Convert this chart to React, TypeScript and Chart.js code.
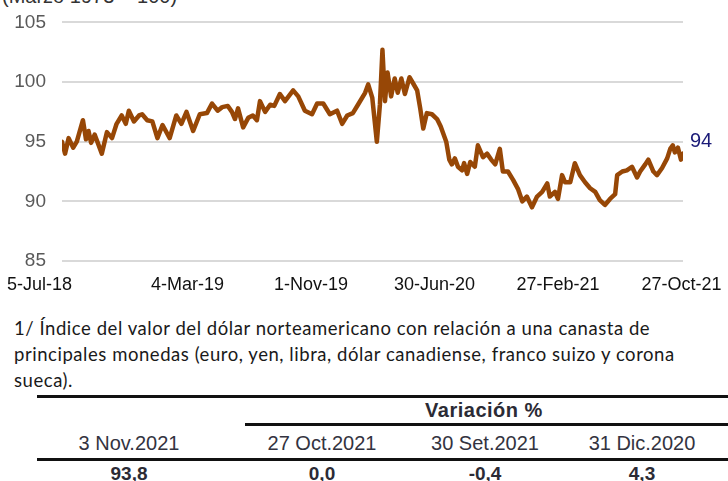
import React, { useEffect, useRef } from "react";
import { Chart, registerables } from "chart.js";

Chart.register(...registerables);

const title = "(Marzo 1973 = 100)";
const startDate = "2018-07-05";
const endDate = "2021-11-03";

const dates: string[] = [
  "2018-07-05", "2018-07-11", "2018-07-18", "2018-07-27", "2018-08-03", "2018-08-15", "2018-08-21", "2018-08-26",
  "2018-08-31", "2018-09-07", "2018-09-21", "2018-10-01", "2018-10-11", "2018-10-20", "2018-10-30", "2018-11-07",
  "2018-11-13", "2018-11-23", "2018-12-03", "2018-12-09", "2018-12-19", "2018-12-29", "2019-01-08", "2019-01-18",
  "2019-02-01", "2019-02-14", "2019-02-24", "2019-03-06", "2019-03-19", "2019-04-01", "2019-04-15", "2019-04-25",
  "2019-05-06", "2019-05-15", "2019-05-26", "2019-06-03", "2019-06-09", "2019-06-15", "2019-06-25", "2019-07-05",
  "2019-07-14", "2019-07-22", "2019-07-28", "2019-08-07", "2019-08-17", "2019-08-25", "2019-09-05", "2019-09-15",
  "2019-10-01", "2019-10-11", "2019-10-24", "2019-11-07", "2019-11-17", "2019-11-29", "2019-12-12", "2019-12-26",
  "2020-01-05", "2020-01-15", "2020-01-26", "2020-02-05", "2020-02-19", "2020-02-25", "2020-03-04", "2020-03-13",
  "2020-03-19", "2020-03-24", "2020-03-29", "2020-04-03", "2020-04-10", "2020-04-17", "2020-04-23", "2020-04-30",
  "2020-05-07", "2020-05-16", "2020-05-23", "2020-05-31", "2020-06-06", "2020-06-12", "2020-06-19", "2020-06-29",
  "2020-07-09", "2020-07-16", "2020-07-27", "2020-08-02", "2020-08-07", "2020-08-13", "2020-08-19", "2020-08-27",
  "2020-08-31", "2020-09-06", "2020-09-12", "2020-09-21", "2020-09-27", "2020-10-07", "2020-10-15", "2020-10-23",
  "2020-10-31", "2020-11-09", "2020-11-15", "2020-11-25", "2020-12-05", "2020-12-15", "2020-12-23", "2021-01-01",
  "2021-01-11", "2021-01-21", "2021-01-31", "2021-02-10", "2021-02-15", "2021-02-25", "2021-03-03", "2021-03-11",
  "2021-03-17", "2021-03-27", "2021-04-05", "2021-04-15", "2021-04-25", "2021-05-05", "2021-05-15", "2021-05-24",
  "2021-06-03", "2021-06-13", "2021-06-23", "2021-06-27", "2021-07-07", "2021-07-16", "2021-07-26", "2021-08-05",
  "2021-08-11", "2021-08-21", "2021-08-27", "2021-09-06", "2021-09-13", "2021-09-23", "2021-10-03", "2021-10-09",
  "2021-10-14", "2021-10-18", "2021-10-24", "2021-10-30", "2021-11-03",
];

const dxy: number[] = [
  95.0, 94.0, 95.3, 94.5, 95.0, 96.8, 95.2, 95.9,
  94.9, 95.6, 94.0, 95.8, 95.3, 96.5, 97.2, 96.5,
  97.6, 96.7, 97.2, 97.3, 96.8, 96.7, 95.3, 96.4,
  95.3, 97.2, 96.5, 97.5, 95.9, 97.3, 97.4, 98.2,
  97.6, 97.9, 98.0, 97.5, 96.9, 97.8, 96.2, 97.0,
  97.2, 96.8, 98.4, 97.5, 98.1, 98.0, 99.0, 98.4,
  99.3, 98.8, 97.6, 97.3, 98.2, 98.2, 97.3, 97.6,
  96.5, 97.2, 97.4, 98.1, 99.1, 99.8, 98.7, 95.0,
  98.1, 102.7, 98.4, 100.8, 98.8, 100.3, 99.1, 100.3,
  99.0, 100.4, 99.9, 99.3, 97.8, 96.1, 97.4, 97.3,
  96.9, 96.3, 95.0, 93.5, 93.1, 93.6, 92.9, 92.6,
  93.2, 92.3, 93.3, 92.9, 94.7, 93.7, 94.0, 93.5,
  93.1, 94.4, 92.5, 92.5, 91.8, 91.0, 90.0, 90.4,
  89.5, 90.4, 90.8, 91.5, 90.4, 90.8, 90.2, 92.2,
  91.6, 91.6, 93.2, 92.2, 91.6, 91.1, 90.8, 90.1,
  89.7, 90.2, 90.6, 92.2, 92.5, 92.6, 92.9, 92.0,
  92.5, 93.1, 93.5, 92.5, 92.2, 92.8, 93.6, 94.4,
  94.7, 94.1, 94.5, 93.5, 94.0,
];

const xTickDates = ["2018-07-05", "2019-03-04", "2019-11-01", "2020-06-30", "2021-02-27", "2021-10-27"];
const xTickLabels = ["5-Jul-18", "4-Mar-19", "1-Nov-19", "30-Jun-20", "27-Feb-21", "27-Oct-21"];
const yTicks = [85, 90, 95, 100, 105];

const noteLines = [
  "1/ Índice del valor del dólar norteamericano con relación a una canasta de",
  "principales monedas (euro, yen, libra, dólar canadiense, franco suizo y corona",
  "sueca).",
];
const tableGroupLabel = "Variación %";
const tableHeaders = ["3 Nov.2021", "27 Oct.2021", "30 Set.2021", "31 Dic.2020"];
const tableValues = ["93,8", "0,0", "-0,4", "4,3"];

const dayOf = (s: string) =>
  (Date.parse(s + "T00:00:00Z") - Date.parse(startDate + "T00:00:00Z")) / 86400000;

const AXIS_FONT = '"Liberation Sans", Arial, sans-serif';

const labelsPlugin = {
  id: "customLabels",
  afterDraw(chart: any) {
    const { ctx } = chart;
    const xs = chart.scales.x;
    const ys = chart.scales.y;
    ctx.save();
    ctx.font = "18px " + AXIS_FONT;
    ctx.fillStyle = "#111111";
    ctx.textBaseline = "middle";
    const ly0 = ys.bottom + 24;
    xTickDates.forEach((d, i) => {
      const px = xs.getPixelForValue(dayOf(d));
      if (i === 0) {
        ctx.textAlign = "right";
        ctx.fillText(xTickLabels[i], px + 10, ly0);
      } else {
        ctx.textAlign = "center";
        ctx.fillText(xTickLabels[i], px + 2, ly0);
      }
    });
    const li = dxy.length - 1;
    const lx = xs.getPixelForValue(dayOf(dates[li]));
    const ly = ys.getPixelForValue(dxy[li]);
    ctx.font = "20px " + AXIS_FONT;
    ctx.fillStyle = "#1B1B78";
    ctx.textAlign = "left";
    ctx.fillText(Math.round(dxy[li]).toString(), lx + 7, ly - 12);
    ctx.restore();
  },
};

function DxyChart() {
  const ref = useRef<HTMLCanvasElement | null>(null);
  useEffect(() => {
    if (!ref.current) return;
    const chart = new Chart(ref.current, {
      type: "line",
      data: {
        datasets: [
          {
            data: dates.map((d, i) => ({ x: dayOf(d), y: dxy[i] })),
            borderColor: "#974706",
            borderWidth: 4.5,
            pointRadius: 0,
            tension: 0,
            borderJoinStyle: "round",
            borderCapStyle: "round",
            fill: false,
          },
        ],
      },
      options: {
        responsive: false,
        animation: false,
        events: [],
        layout: { padding: { left: 0, right: 45, top: 16, bottom: 39 } },
        plugins: { legend: { display: false }, tooltip: { enabled: false } },
        scales: {
          x: {
            type: "linear",
            display: false,
            min: 0,
            max: dayOf(endDate),
          },
          y: {
            min: 85,
            max: 105,
            afterBuildTicks: (scale: any) => {
              scale.ticks = yTicks.map((v) => ({ value: v }));
            },
            afterFit: (scale: any) => {
              scale.width = 62;
            },
            ticks: {
              color: "#595959",
              padding: 16,
              font: { family: AXIS_FONT, size: 19 },
            },
            grid: { color: "#d9d9d9", lineWidth: 2, drawTicks: false },
            border: { display: false },
          },
        },
      },
      plugins: [labelsPlugin],
    } as any);
    return () => chart.destroy();
  }, []);
  return <canvas ref={ref} width={728} height={305} style={{ position: "absolute", left: 0, top: -5, width: 728, height: 305 }} />;
}

const tableCenters = [129, 322, 485, 642];

export default function App() {
  const tFont = '"Liberation Sans", Arial, sans-serif';
  return (
    <div style={{ position: "absolute", left: 0, top: 0, width: 728, height: 481, background: "#fff", overflow: "hidden" }}>
      <div style={{ position: "absolute", left: 2, top: -15, fontFamily: tFont, fontSize: 20, color: "#333", whiteSpace: "nowrap" }}>
        {title}
      </div>
      <DxyChart />
      <div
        style={{
          position: "absolute",
          left: 14,
          top: 315,
          fontFamily: "Lato, 'Open Sans', sans-serif",
          fontSize: 18.5,
          letterSpacing: "0.55px",
          lineHeight: "26px",
          color: "#1a1a1a",
          whiteSpace: "nowrap",
        }}
      >
        {noteLines.map((l, i) => (
          <div key={i}>{l}</div>
        ))}
      </div>
      <div style={{ position: "absolute", left: 37, top: 395, width: 691, height: 3, background: "#111" }} />
      <div style={{ position: "absolute", left: 245, top: 423, width: 483, height: 3, background: "#111" }} />
      <div style={{ position: "absolute", left: 37, top: 458, width: 691, height: 3, background: "#111" }} />
      <div
        style={{
          position: "absolute",
          left: 484,
          top: 399,
          transform: "translateX(-50%)",
          fontFamily: tFont,
          fontSize: 20,
          letterSpacing: "0.5px",
          fontWeight: "bold",
          color: "#2b2b35",
          whiteSpace: "nowrap",
          lineHeight: "23px",
        }}
      >
        {tableGroupLabel}
      </div>
      {tableHeaders.map((h, i) => (
        <div
          key={"h" + i}
          style={{
            position: "absolute",
            left: tableCenters[i],
            top: 432,
            transform: "translateX(-50%)",
            fontFamily: tFont,
            fontSize: 20,
            color: "#333340",
            whiteSpace: "nowrap",
            lineHeight: "23px",
          }}
        >
          {h}
        </div>
      ))}
      {tableValues.map((v, i) => (
        <div
          key={"v" + i}
          style={{
            position: "absolute",
            left: tableCenters[i],
            top: 462,
            transform: "translateX(-50%)",
            fontFamily: tFont,
            fontSize: 19,
            fontWeight: "bold",
            color: "#2b2b35",
            whiteSpace: "nowrap",
            lineHeight: "23px",
          }}
        >
          {v}
        </div>
      ))}
    </div>
  );
}
